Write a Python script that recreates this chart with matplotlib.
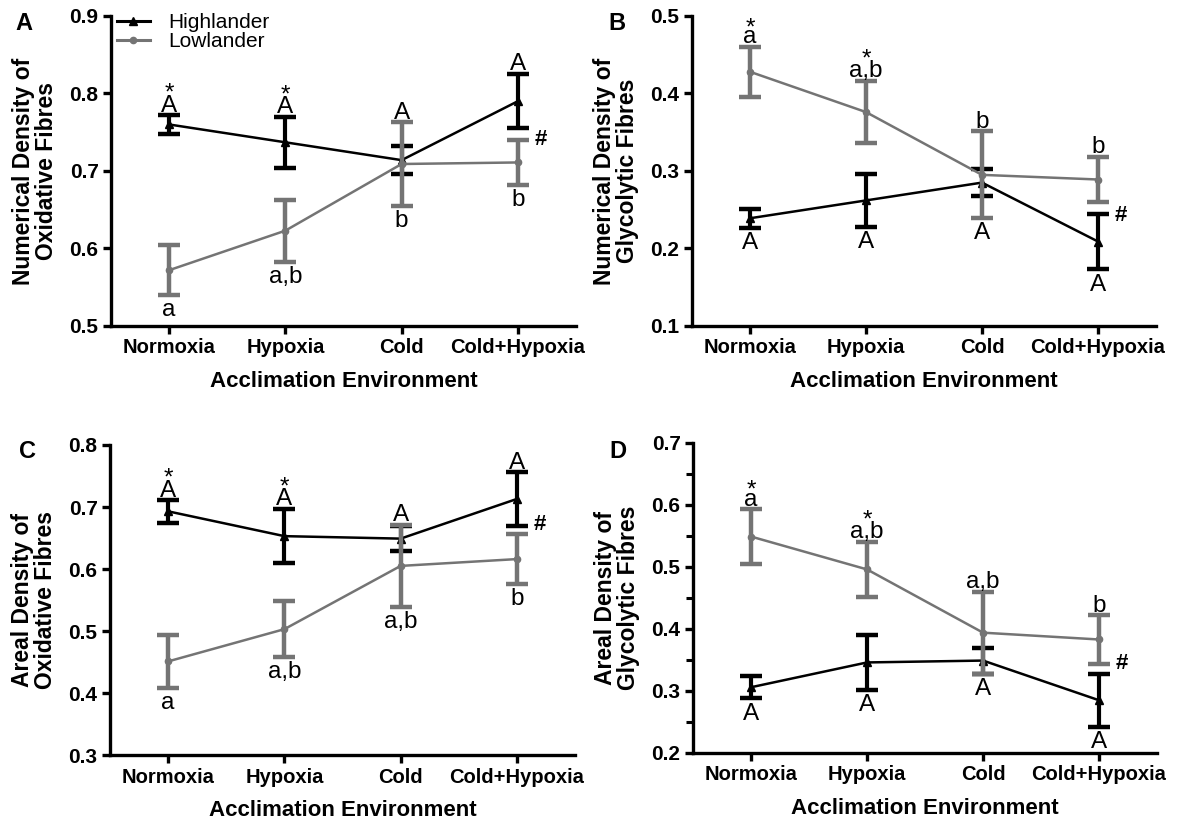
import matplotlib
matplotlib.use("Agg")
import matplotlib.pyplot as plt
from matplotlib.ticker import MultipleLocator
from matplotlib.lines import Line2D
import numpy as np

plt.rcParams['font.family'] = ['Liberation Sans', 'DejaVu Sans']

categories = ["Normoxia", "Hypoxia", "Cold", "Cold+Hypoxia"]
series_names = ["Highlander", "Lowlander"]

# Panel A: Numerical density of oxidative fibres
A_hi = [0.760, 0.737, 0.714, 0.790]
A_hi_err = [0.012, 0.033, 0.018, 0.035]
A_lo = [0.572, 0.623, 0.709, 0.711]
A_lo_err = [0.032, 0.040, 0.054, 0.029]

# Panel B: Numerical density of glycolytic fibres
B_hi = [0.239, 0.262, 0.285, 0.209]
B_hi_err = [0.012, 0.034, 0.017, 0.036]
B_lo = [0.428, 0.376, 0.295, 0.289]
B_lo_err = [0.032, 0.040, 0.056, 0.029]

# Panel C: Areal density of oxidative fibres
C_hi = [0.693, 0.653, 0.649, 0.713]
C_hi_err = [0.018, 0.044, 0.020, 0.043]
C_lo = [0.451, 0.503, 0.605, 0.616]
C_lo_err = [0.043, 0.045, 0.066, 0.040]

# Panel D: Areal density of glycolytic fibres
D_hi = [0.306, 0.346, 0.349, 0.285]
D_hi_err = [0.018, 0.044, 0.021, 0.043]
D_lo = [0.549, 0.496, 0.394, 0.383]
D_lo_err = [0.044, 0.045, 0.066, 0.039]

# significance letters: (category index, series anchored to, text, side)
A_labels = [(0, 'hi', 'A', 'up'), (1, 'hi', 'A', 'up'), (2, 'lo', 'A', 'up'), (3, 'hi', 'A', 'up'),
            (0, 'lo', 'a', 'down'), (1, 'lo', 'a,b', 'down'), (2, 'lo', 'b', 'down'), (3, 'lo', 'b', 'down')]
B_labels = [(0, 'lo', 'a', 'up'), (1, 'lo', 'a,b', 'up'), (2, 'lo', 'b', 'up'), (3, 'lo', 'b', 'up'),
            (0, 'hi', 'A', 'down'), (1, 'hi', 'A', 'down'), (2, 'lo', 'A', 'down'), (3, 'hi', 'A', 'down')]
C_labels = [(0, 'hi', 'A', 'up'), (1, 'hi', 'A', 'up'), (2, 'lo', 'A', 'up'), (3, 'hi', 'A', 'up'),
            (0, 'lo', 'a', 'down'), (1, 'lo', 'a,b', 'down'), (2, 'lo', 'a,b', 'down'), (3, 'lo', 'b', 'down')]
D_labels = [(0, 'lo', 'a', 'up'), (1, 'lo', 'a,b', 'up'), (2, 'lo', 'a,b', 'up'), (3, 'lo', 'b', 'up'),
            (0, 'hi', 'A', 'down'), (1, 'hi', 'A', 'down'), (2, 'lo', 'A', 'down'), (3, 'hi', 'A', 'down')]
star_idx = [0, 1]

panels = [
    dict(letter='A', hi=A_hi, hie=A_hi_err, lo=A_lo, loe=A_lo_err, labels=A_labels, star='hi',
         ylim=(0.5, 0.9), ylabel='Numerical Density of\nOxidative Fibres', hash_y=0.740,
         rect=[0.0932, 0.6039, 0.3904, 0.3767], letter_xy=(24, 23), minor=False, legend=True),
    dict(letter='B', hi=B_hi, hie=B_hi_err, lo=B_lo, loe=B_lo_err, labels=B_labels, star='lo',
         ylim=(0.1, 0.5), ylabel='Numerical Density of\nGlycolytic Fibres', hash_y=0.243,
         rect=[0.5810, 0.6039, 0.3896, 0.3767], letter_xy=(617, 23), minor=False, legend=False),
    dict(letter='C', hi=C_hi, hie=C_hi_err, lo=C_lo, loe=C_lo_err, labels=C_labels, star='hi',
         ylim=(0.3, 0.8), ylabel='Areal Density of\nOxidative Fibres', hash_y=0.672,
         rect=[0.0924, 0.0826, 0.3904, 0.3767], letter_xy=(28, 451), minor=False, legend=False),
    dict(letter='D', hi=D_hi, hie=D_hi_err, lo=D_lo, loe=D_lo_err, labels=D_labels, star='lo',
         ylim=(0.2, 0.7), ylabel='Areal Density of\nGlycolytic Fibres', hash_y=0.345,
         rect=[0.5819, 0.0851, 0.3896, 0.3767], letter_xy=(618, 452), minor=True, legend=False),
]

BLACK = '#000000'
GREY = '#747474'

W, H = 1191, 823
fig = plt.figure(figsize=(W / 100, H / 100), dpi=100)
x = np.arange(len(categories))
ANN = 17.5

for p in panels:
    ax = fig.add_axes(p['rect'])
    ax.errorbar(x, p['hi'], yerr=p['hie'], color=BLACK, marker='^', ms=5.5, lw=1.8,
                elinewidth=3.0, capsize=8, capthick=3.2, zorder=2)
    ax.errorbar(x, p['lo'], yerr=p['loe'], color=GREY, marker='o', ms=4.5, lw=1.8,
                elinewidth=3.2, capsize=8, capthick=3.2, zorder=3)
    ax.set_xlim(-0.5, 3.5)
    ax.set_ylim(*p['ylim'])
    ax.yaxis.set_major_locator(MultipleLocator(0.1))
    if p['minor']:
        ax.yaxis.set_minor_locator(MultipleLocator(0.05))
        ax.tick_params(axis='y', which='minor', length=5, width=2.2)
    ax.set_xticks(x)
    ax.set_xticklabels(categories, fontweight='bold', fontsize=14.5)
    ax.tick_params(axis='y', labelsize=15)
    for lab in ax.get_yticklabels():
        lab.set_fontweight('bold')
    ax.tick_params(which='major', length=6, width=2.4, direction='out', pad=3)
    for s in ['top', 'right']:
        ax.spines[s].set_visible(False)
    for s in ['left', 'bottom']:
        ax.spines[s].set_linewidth(2.4)
    ax.set_xlabel('Acclimation Environment', fontweight='bold', fontsize=16, labelpad=10)
    ax.set_ylabel(p['ylabel'], fontweight='bold', fontsize=16.5, labelpad=8, linespacing=1.0)

    # significance letters (an asterisk, where present, is stacked in the same text)
    for (i, ser, txt, side) in p['labels']:
        if ser == 'hi':
            v, e = p['hi'][i], p['hie'][i]
        else:
            v, e = p['lo'][i], p['loe'][i]
        if side == 'up':
            if i in star_idx and ser == p['star']:
                tall = any(c.isupper() or c == 'b' for c in txt)
                ax.annotate('*\n' + txt, (i, v + e), xytext=(0, -1), textcoords='offset points',
                            ha='center', va='bottom', fontsize=ANN,
                            linespacing=0.4 if tall else 0.25)
            else:
                ax.annotate(txt, (i, v + e), xytext=(0, -1), textcoords='offset points',
                            ha='center', va='bottom', fontsize=ANN)
        else:
            ax.annotate(txt, (i, v - e), xytext=(0, -3), textcoords='offset points',
                        ha='center', va='top', fontsize=ANN)
    ax.text(3.2, p['hash_y'], '#', fontsize=16, fontweight='bold', ha='center', va='center')

    lx, ly = p['letter_xy']
    fig.text(lx / W, 1 - ly / H, p['letter'], fontsize=17, fontweight='bold',
             ha='center', va='center')

    if p['legend']:
        handles = [Line2D([], [], color=BLACK, marker='^', ms=5.5, lw=2.2),
                   Line2D([], [], color=GREY, marker='o', ms=4.5, lw=2.2)]
        ax.legend(handles, series_names, loc='upper left', bbox_to_anchor=(0.012, 1.01),
                  frameon=False, fontsize=15, handlelength=1.6, labelspacing=0.0,
                  handletextpad=0.9, borderaxespad=0.0, borderpad=0.0)

fig.savefig('out.png', dpi=100)
